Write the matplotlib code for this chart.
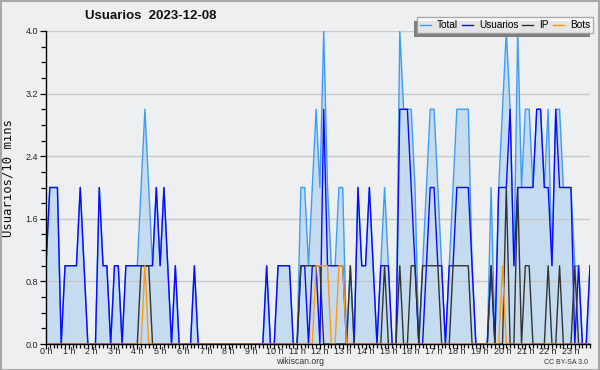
import matplotlib
matplotlib.use("Agg")
import matplotlib.pyplot as plt
from matplotlib.ticker import MultipleLocator
from matplotlib.patches import Rectangle
import numpy as np

# ---- data (10-minute slots, 144 per day) ----
hour_labels = [f"{h} h" for h in range(24)]
y_tick_values = [0.0, 0.8, 1.6, 2.4, 3.2, 4.0]

usuarios = [
    1, 2, 2, 2, 0, 1, 1, 1, 1, 2,
    1, 0, 0, 0, 2, 1, 1, 0, 1, 1,
    0, 1, 1, 1, 1, 1, 1, 1, 1, 2,
    1, 2, 1, 0, 1, 0, 0, 0, 0, 1,
    0, 0, 0, 0, 0, 0, 0, 0, 0, 0,
    0, 0, 0, 0, 0, 0, 0, 0, 1, 0,
    0, 1, 1, 1, 1, 0, 0, 1, 1, 0,
    1, 1, 0, 3, 1, 1, 1, 1, 1, 0,
    0, 0, 2, 1, 1, 2, 1, 0, 1, 1,
    1, 0, 0, 3, 3, 3, 2, 1, 0, 0,
    1, 2, 2, 1, 1, 0, 1, 1, 2, 2,
    2, 2, 1, 0, 0, 0, 0, 1, 0, 2,
    2, 2, 3, 1, 2, 2, 2, 2, 2, 3,
    3, 2, 2, 1, 3, 2, 2, 2, 2, 0,
    1, 0, 0, 1,
]

ip = [
    0, 0, 0, 0, 0, 0, 0, 0, 0, 0,
    0, 0, 0, 0, 0, 0, 0, 0, 0, 0,
    0, 0, 0, 0, 0, 1, 1, 1, 0, 0,
    0, 0, 0, 0, 0, 0, 0, 0, 0, 0,
    0, 0, 0, 0, 0, 0, 0, 0, 0, 0,
    0, 0, 0, 0, 0, 0, 0, 0, 0, 0,
    0, 0, 0, 0, 0, 0, 0, 1, 1, 1,
    1, 1, 1, 0, 0, 0, 0, 0, 0, 0,
    1, 0, 0, 0, 0, 0, 0, 0, 0, 1,
    0, 0, 0, 1, 0, 0, 1, 1, 0, 1,
    1, 1, 1, 1, 0, 0, 0, 1, 1, 1,
    1, 1, 0, 0, 0, 0, 0, 1, 0, 0,
    0, 2, 0, 0, 2, 0, 1, 1, 0, 0,
    0, 0, 1, 0, 0, 1, 0, 0, 0, 1,
    0, 0, 0, 0,
]

bots = [
    0, 0, 0, 0, 0, 0, 0, 0, 0, 0,
    0, 0, 0, 0, 0, 0, 0, 0, 0, 0,
    0, 0, 0, 0, 0, 0, 1, 0, 0, 0,
    0, 0, 0, 0, 0, 0, 0, 0, 0, 0,
    0, 0, 0, 0, 0, 0, 0, 0, 0, 0,
    0, 0, 0, 0, 0, 0, 0, 0, 0, 0,
    0, 0, 0, 0, 0, 0, 0, 0, 0, 0,
    0, 1, 1, 1, 1, 0, 0, 1, 1, 0,
    0, 0, 0, 0, 0, 0, 0, 0, 0, 0,
    0, 0, 0, 0, 0, 0, 0, 0, 0, 0,
    0, 0, 0, 0, 0, 0, 0, 0, 0, 0,
    0, 0, 0, 0, 0, 0, 0, 0, 0, 0,
    1, 0, 0, 0, 0, 0, 0, 0, 0, 0,
    0, 0, 0, 0, 0, 0, 0, 0, 0, 0,
    0, 0, 0, 0,
]

total = [
    1, 2, 2, 2, 0, 1, 1, 1, 1, 2,
    1, 0, 0, 0, 2, 1, 1, 0, 1, 1,
    0, 1, 1, 1, 1, 2, 3, 2, 1, 2,
    1, 2, 1, 0, 1, 0, 0, 0, 0, 1,
    0, 0, 0, 0, 0, 0, 0, 0, 0, 0,
    0, 0, 0, 0, 0, 0, 0, 0, 1, 0,
    0, 1, 1, 1, 1, 0, 0, 2, 2, 1,
    2, 3, 2, 4, 2, 1, 1, 2, 2, 0,
    1, 0, 2, 1, 1, 2, 1, 0, 1, 2,
    1, 0, 0, 4, 3, 3, 3, 2, 0, 1,
    2, 3, 3, 2, 1, 0, 1, 2, 3, 3,
    3, 3, 1, 0, 0, 0, 0, 2, 0, 2,
    3, 4, 3, 1, 4, 2, 3, 3, 2, 3,
    3, 2, 3, 1, 3, 3, 2, 2, 2, 1,
    1, 0, 0, 1,
]

# ---- style ----
BG = "#eeeff1"
FILL = "#c5dcf0"
C_TOTAL = "#3d9df5"
C_USERS = "#0a0aff"
C_IP = "#333333"
C_BOTS = "#ff9a10"
SANS = ["Liberation Sans", "DejaVu Sans"]

plt.rcParams["font.family"] = SANS

W, H = 600, 370
fig = plt.figure(figsize=(W / 100, H / 100), dpi=100, facecolor=BG)

# outer frame
fig.patches.append(Rectangle((0.5 / W, 0.5 / H), 1 - 1.5 / W, 1 - 1.5 / H,
                             transform=fig.transFigure, fill=False,
                             edgecolor="#a8a8a8", linewidth=1.5, zorder=0))

ax = fig.add_axes([46 / W, 26 / H, 544 / W, 313 / H], facecolor=BG)

x = np.arange(len(total))
ax.fill_between(x, total, 0, color=FILL, linewidth=0, zorder=1)
ax.plot(x, total, color=C_TOTAL, lw=1.0, label="Total", zorder=2)
ax.plot(x, usuarios, color=C_USERS, lw=1.0, label="Usuarios", zorder=2.1)
ax.plot(x, ip, color=C_IP, lw=1.0, label="IP", zorder=2.2)
ax.plot(x, bots, color=C_BOTS, lw=1.0, label="Bots", zorder=2.3)

ax.set_xlim(0, len(total) - 1)
ax.set_ylim(0, 4.0)

for s in ("top", "right"):
    ax.spines[s].set_visible(False)
for s in ("left", "bottom"):
    ax.spines[s].set_color("black")
    ax.spines[s].set_linewidth(1.0)
    ax.spines[s].set_zorder(3)

ax.set_yticks(y_tick_values)
ax.set_yticklabels([f"{v:.1f}" for v in y_tick_values])
ax.yaxis.set_minor_locator(MultipleLocator(0.2))
ax.set_xticks(np.arange(0, 144, 6))
ax.set_xticklabels(hour_labels)
ax.xaxis.set_minor_locator(MultipleLocator(1))

ax.tick_params(axis="both", which="both", direction="out", color="black",
               width=0.9, labelsize=6.5, labelcolor="#222222")
ax.tick_params(axis="x", which="major", length=3.5, pad=-1.0)
ax.tick_params(axis="x", which="minor", length=3)
ax.tick_params(axis="y", which="major", length=4, pad=1.5)
ax.tick_params(axis="y", which="minor", length=3.5)

ax.grid(axis="y", which="major", color="#c8c8c8", linewidth=1.0)
ax.set_axisbelow("line")

ax.set_ylabel("Usuarios/10 mins", family=["DejaVu Sans Mono"], fontsize=8.8,
              color="#111111")
# right edge of the rotated label at about x = 15 px
ax.yaxis.set_label_coords(-31 / 544, (344 - 178) / 313)

fig.text(151 / W, 1 - 16 / H, "Usuarios  2023-12-08", ha="center", va="center",
         fontsize=9.5, fontweight="bold", color="#111111")

fig.text(300 / W, 1 - 362 / H, "wikiscan.org", ha="center", va="center",
         fontsize=6.2, color="#333333")
fig.text(566 / W, 1 - 362 / H, "CC BY-SA 3.0", ha="center", va="center",
         fontsize=5, color="#333333")

leg = fig.legend(loc="upper right", bbox_to_anchor=(593 / W, 1 - 17 / H),
                 bbox_transform=fig.transFigure, ncol=4, frameon=True,
                 fancybox=False, fontsize=7.2, handlelength=1.1,
                 handletextpad=0.6, columnspacing=0.4, borderpad=0.3,
                 borderaxespad=0)
leg.get_frame().set_edgecolor("#999999")
leg.get_frame().set_linewidth(1.0)
leg.get_frame().set_facecolor("white")
leg.set_zorder(5)

fig.canvas.draw()
bb = leg.get_window_extent()
inv = fig.transFigure.inverted()
(x0, y0), (x1, y1) = inv.transform([(bb.x0 - 3, bb.y0 - 4), (bb.x1 - 3, bb.y1 - 4)])
fig.patches.append(Rectangle((x0, y0), x1 - x0, y1 - y0, transform=fig.transFigure,
                             facecolor="#808080", edgecolor="none", zorder=4))

fig.savefig("out.png", dpi=100, facecolor=BG)
